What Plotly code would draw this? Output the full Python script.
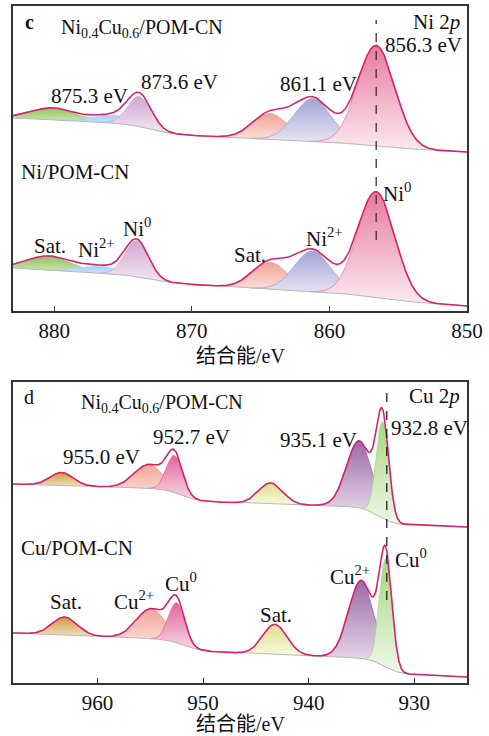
import numpy as np
import plotly.graph_objects as go

W, H = 489, 736

# ---------------- DATA (heights in arbitrary intensity units) ----------------
# Panel c : Ni 2p
c_range = [883, 850]
c_ticks = [880, 870, 860, 850]
c_names = ["Sat.", "Ni2+", "Ni0", "Sat.", "Ni2+", "Ni0"]
c_colors = ["#8cc35a", "#a9d3f3", "#cfa8cf", "#f2a395", "#a3a3d6", "#e8799f"]
c_pale = ["#d6ebc4", "#e6f2fc", "#f5e9f3", "#fce6e2", "#eceaf6", "#fcebf1"]
# top spectrum Ni0.4Cu0.6/POM-CN
c1_center = [880.1, 875.6, 873.8, 864.3, 861.2, 856.6]
c1_height = [12, 8, 30, 26, 43, 100]
c1_sigma = [1.6, 1.5, 0.85, 1.3, 1.35, 1.35]
c1_bg_right, c1_bg_slope = 159, 0.667
c1_step_center = [873.0, 856.0]
c1_step_height = [9, 3]
c1_step_width = [0.8, 1.0]
# bottom spectrum Ni/POM-CN
c2_center = [880.4, 876.5, 874.0, 864.3, 861.2, 856.6]
c2_height = [14, 7, 36, 27, 41, 105]
c2_sigma = [1.6, 1.5, 0.85, 1.3, 1.35, 1.35]
c2_bg_right, c2_bg_slope = 5, 0.818
c2_step_center = [873.0, 855.5]
c2_step_height = [6, 5]
c2_step_width = [0.8, 1.0]
c_ref_energy = 856.6
c_ref_span = [71, 291]

# Panel d : Cu 2p
d_range = [968, 925]
d_ticks = [960, 950, 940, 930]
d_colors = ["#cf9a3a", "#f3a598", "#e0649a", "#dfe08a", "#9a6aa6", "#a5d680"]
d_pale = ["#f0e2c4", "#fce6e0", "#f8dbe7", "#f9f8e2", "#f3e8f3", "#eff8e8"]
d1_center = [963.4, 955.1, 952.7, 943.6, 935.2, 933.0]
d1_height = [13, 24, 37, 21, 67, 97]
d1_sigma = [1.1, 1.4, 0.75, 1.15, 1.2, 0.58]
d1_bg_right, d1_bg_slope = 156, 0.326
d1_step_center = [952.0, 933.4]
d1_step_height = [12, 17]
d1_step_width = [0.8, 0.7]
d2_center = [963.1, 954.9, 952.5, 943.2, 935.0, 932.7]
d2_height = [18, 30, 40, 30, 78, 108]
d2_sigma = [1.2, 1.4, 0.75, 1.15, 1.2, 0.58]
d2_bg_right, d2_bg_slope = 6, 0.419
d2_step_center = [951.8, 932.8]
d2_step_height = [11, 15]
d2_step_width = [0.8, 0.7]
d_ref_energy = 932.6
d_ref_span = [83, 291]

ENV_COLOR = "#d6236e"
BG_COLOR = "#b8b8b8"
FONT = "Liberation Serif, Times New Roman, Noto Sans CJK SC, serif"


def gauss(x, c, h, s):
    return h * np.exp(-((x - c) ** 2) / (2 * s * s))


def background(x, xmin, right, slope, sc, sh, sw):
    b = right + slope * (x - xmin)
    for c, h, w in zip(sc, sh, sw):
        b = b + h / (1 + np.exp(-(x - c) / w))
    return b


fig = go.Figure()


def add_spectrum(xa, ya, x, bg, centers, heights, sigmas, colors, pales):
    total = np.zeros_like(x)
    for c, h, s, col, pal in zip(centers, heights, sigmas, colors, pales):
        p = gauss(x, c, h, s)
        total = total + p
        m = p > 0.15
        xs, b, t = x[m], bg[m], bg[m] + p[m]
        fig.add_trace(go.Scatter(x=xs, y=b, mode="lines", line=dict(width=0),
                                 xaxis=xa, yaxis=ya, showlegend=False, hoverinfo="skip"))
        fig.add_trace(go.Scatter(x=xs, y=t, mode="lines", line=dict(width=0.8, color=col),
                                 fill="tonexty",
                                 fillgradient=dict(type="vertical",
                                                   colorscale=[[0, pal], [1, col]]),
                                 xaxis=xa, yaxis=ya, showlegend=False, hoverinfo="skip"))
    fig.add_trace(go.Scatter(x=x, y=bg, mode="lines", line=dict(width=1, color=BG_COLOR),
                             xaxis=xa, yaxis=ya, showlegend=False, hoverinfo="skip"))
    fig.add_trace(go.Scatter(x=x, y=bg + total, mode="lines",
                             line=dict(width=1.6, color=ENV_COLOR),
                             xaxis=xa, yaxis=ya, showlegend=False, hoverinfo="skip"))


xc = np.linspace(c_range[1], c_range[0], 900)
xd = np.linspace(d_range[1], d_range[0], 900)

bg = background(xc, c_range[1], c1_bg_right, c1_bg_slope, c1_step_center, c1_step_height, c1_step_width)
add_spectrum("x", "y", xc, bg, c1_center, c1_height, c1_sigma, c_colors, c_pale)
bg = background(xc, c_range[1], c2_bg_right, c2_bg_slope, c2_step_center, c2_step_height, c2_step_width)
add_spectrum("x", "y", xc, bg, c2_center, c2_height, c2_sigma, c_colors, c_pale)
bg = background(xd, d_range[1], d1_bg_right, d1_bg_slope, d1_step_center, d1_step_height, d1_step_width)
add_spectrum("x2", "y2", xd, bg, d1_center, d1_height, d1_sigma, d_colors, d_pale)
bg = background(xd, d_range[1], d2_bg_right, d2_bg_slope, d2_step_center, d2_step_height, d2_step_width)
add_spectrum("x2", "y2", xd, bg, d2_center, d2_height, d2_sigma, d_colors, d_pale)

fig.add_trace(go.Scatter(x=[c_ref_energy] * 2, y=c_ref_span, mode="lines",
                         line=dict(color="#333333", width=1.3, dash="dash"),
                         xaxis="x", yaxis="y", showlegend=False))
fig.add_trace(go.Scatter(x=[d_ref_energy] * 2, y=d_ref_span, mode="lines",
                         line=dict(color="#222222", width=1.3, dash="dash"),
                         xaxis="x2", yaxis="y2", showlegend=False))


def px(x, y):
    return x / W, 1 - y / H


c_top, c_bot = 6, 311
d_top, d_bot = 382, 683
xl, xr = 13, 467

axis_common = dict(showline=True, linecolor="#333333", linewidth=1.5, mirror=True,
                   ticks="inside", ticklen=5, tickwidth=1.2, tickcolor="#333333",
                   showgrid=False, zeroline=False, automargin=False,
                   tickfont=dict(family=FONT, size=21, color="#111111"))
yaxis_common = dict(showticklabels=False, showline=True, linecolor="#333333", linewidth=1.5,
                    mirror=True, ticks="", showgrid=False, zeroline=False, automargin=False)
fig.update_layout(
    template="none",
    width=W, height=H, margin=dict(l=0, r=0, t=0, b=0, pad=0, autoexpand=False),
    paper_bgcolor="white", plot_bgcolor="white",
    font=dict(family=FONT, size=20, color="#111111"),
    xaxis=dict(range=c_range, tickvals=c_ticks, domain=[xl / W, xr / W], anchor="y", **axis_common),
    yaxis=dict(range=[0, c_bot - c_top], domain=[1 - c_bot / H, 1 - c_top / H], anchor="x",
               **yaxis_common),
    xaxis2=dict(range=d_range, tickvals=d_ticks, domain=[xl / W, xr / W], anchor="y2", **axis_common),
    yaxis2=dict(range=[0, d_bot - d_top], domain=[1 - d_bot / H, 1 - d_top / H], anchor="x2",
                **yaxis_common),
)

labels = [
    # text, x, y, xanchor, size
    ("<b>c</b>", 23, 22, "left", 20),
    ("Ni<sub>0.4</sub>Cu<sub>0.6</sub>/POM-CN", 59, 28, "left", 20),
    ("Ni 2<i>p</i>", 462, 22, "right", 21),
    ("856.3 eV", 423, 45, "center", 21),
    ("875.3 eV", 89, 96, "center", 21),
    ("873.6 eV", 179, 82, "center", 21),
    ("861.1 eV", 318, 84, "center", 21),
    ("Ni/POM-CN", 19, 172, "left", 21),
    ("Ni<sup>0</sup>", 397, 192, "center", 21),
    ("Ni<sup>2+</sup>", 324, 237, "center", 21),
    ("Sat.", 250, 255, "center", 21),
    ("Sat.", 50, 246, "center", 21),
    ("Ni<sup>2+</sup>", 96, 249, "center", 21),
    ("Ni<sup>0</sup>", 137, 228, "center", 21),
    ("结合能/eV", 240, 356, "center", 20),
    ("d", 22, 397, "left", 20),
    ("Ni<sub>0.4</sub>Cu<sub>0.6</sub>/POM-CN", 79, 403, "left", 20),
    ("Cu 2<i>p</i>", 462, 396, "right", 21),
    ("932.8 eV", 429, 428, "center", 21),
    ("935.1 eV", 318, 440, "center", 21),
    ("952.7 eV", 191, 437, "center", 21),
    ("955.0 eV", 101, 457, "center", 21),
    ("Cu/POM-CN", 19, 548, "left", 21),
    ("Cu<sup>0</sup>", 411, 558, "center", 21),
    ("Cu<sup>2+</sup>", 350, 575, "center", 21),
    ("Sat.", 276, 615, "center", 21),
    ("Cu<sup>0</sup>", 181, 582, "center", 21),
    ("Cu<sup>2+</sup>", 134, 600, "center", 21),
    ("Sat.", 66, 602, "center", 21),
    ("结合能/eV", 240, 724, "center", 20),
]
for t, x, y, xa, s in labels:
    px_, py_ = px(x, y)
    fig.add_annotation(text=t, x=px_, y=py_, xref="paper", yref="paper",
                       xanchor=xa, yanchor="middle", showarrow=False,
                       font=dict(family=FONT, size=s, color="#111111"))

fig.write_html("out.html")
